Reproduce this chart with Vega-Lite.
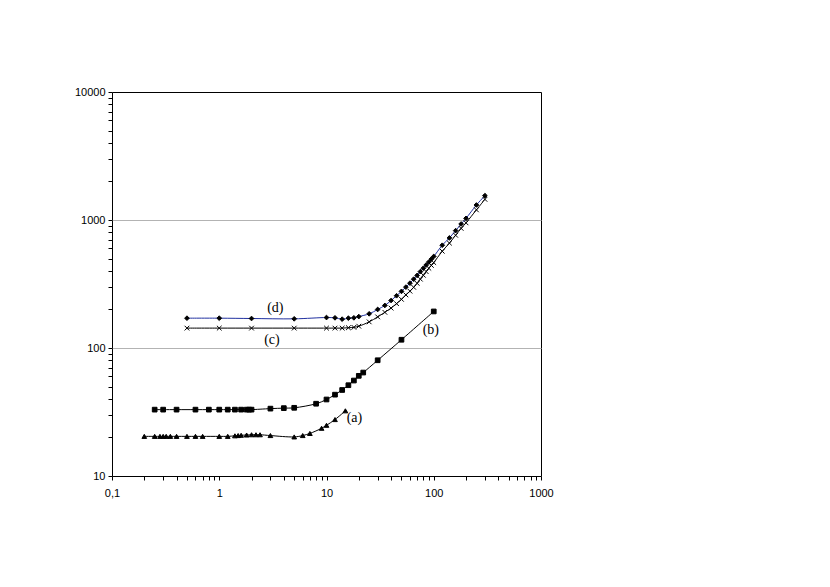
{
  "$schema": "https://vega.github.io/schema/vega-lite/v6.json",
  "width": 429,
  "height": 384,
  "autosize": "none",
  "padding": {"left": 112, "top": 92, "right": 289, "bottom": 111},
  "background": "white",
  "config": {
    "view": {"stroke": "black", "strokeWidth": 1},
    "axis": {"labelFont": "Liberation Sans", "labelFontSize": 11, "labelColor": "black", "tickColor": "black", "domain": false}
  },
  "datasets": {
    "curves": [
      {"s": "a", "x": 0.2, "y": 20.4}, {"s": "a", "x": 0.25, "y": 20.4}, {"s": "a", "x": 0.28, "y": 20.4}, {"s": "a", "x": 0.3, "y": 20.4},
      {"s": "a", "x": 0.32, "y": 20.4}, {"s": "a", "x": 0.35, "y": 20.4}, {"s": "a", "x": 0.4, "y": 20.4}, {"s": "a", "x": 0.5, "y": 20.4},
      {"s": "a", "x": 0.6, "y": 20.4}, {"s": "a", "x": 0.7, "y": 20.4}, {"s": "a", "x": 1, "y": 20.4}, {"s": "a", "x": 1.2, "y": 20.4},
      {"s": "a", "x": 1.4, "y": 20.6}, {"s": "a", "x": 1.5, "y": 20.7}, {"s": "a", "x": 1.6, "y": 20.8}, {"s": "a", "x": 1.8, "y": 20.9},
      {"s": "a", "x": 2, "y": 21}, {"s": "a", "x": 2.2, "y": 21}, {"s": "a", "x": 2.4, "y": 21}, {"s": "a", "x": 3, "y": 20.7},
      {"s": "a", "x": 5, "y": 20.2}, {"s": "a", "x": 6, "y": 20.7}, {"s": "a", "x": 7, "y": 21.5}, {"s": "a", "x": 9, "y": 23.6},
      {"s": "a", "x": 10, "y": 24.9}, {"s": "a", "x": 12, "y": 27.6}, {"s": "a", "x": 15, "y": 32.3},
      {"s": "b", "x": 0.25, "y": 33}, {"s": "b", "x": 0.3, "y": 33}, {"s": "b", "x": 0.4, "y": 33}, {"s": "b", "x": 0.6, "y": 33},
      {"s": "b", "x": 0.8, "y": 33}, {"s": "b", "x": 1, "y": 33}, {"s": "b", "x": 1.2, "y": 33}, {"s": "b", "x": 1.4, "y": 33},
      {"s": "b", "x": 1.6, "y": 33}, {"s": "b", "x": 1.8, "y": 33}, {"s": "b", "x": 1.9, "y": 33}, {"s": "b", "x": 2, "y": 33},
      {"s": "b", "x": 3, "y": 33.6}, {"s": "b", "x": 4, "y": 33.9}, {"s": "b", "x": 5, "y": 34.1}, {"s": "b", "x": 8, "y": 36.7},
      {"s": "b", "x": 10, "y": 39.6}, {"s": "b", "x": 12, "y": 43.2}, {"s": "b", "x": 14, "y": 47}, {"s": "b", "x": 16, "y": 51.2},
      {"s": "b", "x": 18, "y": 55.7}, {"s": "b", "x": 20, "y": 60.6}, {"s": "b", "x": 22, "y": 64.3}, {"s": "b", "x": 30, "y": 80.2},
      {"s": "b", "x": 50, "y": 116}, {"s": "b", "x": 100, "y": 193},
      {"s": "c", "x": 0.5, "y": 143}, {"s": "c", "x": 1, "y": 143}, {"s": "c", "x": 2, "y": 143}, {"s": "c", "x": 5, "y": 143},
      {"s": "c", "x": 10, "y": 143}, {"s": "c", "x": 12, "y": 143}, {"s": "c", "x": 14, "y": 143}, {"s": "c", "x": 16, "y": 144},
      {"s": "c", "x": 18, "y": 145}, {"s": "c", "x": 20, "y": 148}, {"s": "c", "x": 25, "y": 160}, {"s": "c", "x": 30, "y": 175},
      {"s": "c", "x": 35, "y": 190}, {"s": "c", "x": 40, "y": 205}, {"s": "c", "x": 45, "y": 222}, {"s": "c", "x": 50, "y": 240},
      {"s": "c", "x": 55, "y": 260}, {"s": "c", "x": 60, "y": 278}, {"s": "c", "x": 65, "y": 298}, {"s": "c", "x": 70, "y": 320},
      {"s": "c", "x": 75, "y": 345}, {"s": "c", "x": 80, "y": 370}, {"s": "c", "x": 85, "y": 395}, {"s": "c", "x": 90, "y": 420},
      {"s": "c", "x": 95, "y": 442}, {"s": "c", "x": 100, "y": 465}, {"s": "c", "x": 120, "y": 570}, {"s": "c", "x": 140, "y": 660},
      {"s": "c", "x": 160, "y": 760}, {"s": "c", "x": 180, "y": 860}, {"s": "c", "x": 200, "y": 950}, {"s": "c", "x": 250, "y": 1200},
      {"s": "c", "x": 300, "y": 1450},
      {"s": "d", "x": 0.5, "y": 171}, {"s": "d", "x": 1, "y": 171}, {"s": "d", "x": 2, "y": 170}, {"s": "d", "x": 5, "y": 169},
      {"s": "d", "x": 10, "y": 173}, {"s": "d", "x": 12, "y": 172}, {"s": "d", "x": 14, "y": 168}, {"s": "d", "x": 16, "y": 171},
      {"s": "d", "x": 18, "y": 172}, {"s": "d", "x": 20, "y": 176}, {"s": "d", "x": 25, "y": 185}, {"s": "d", "x": 30, "y": 200},
      {"s": "d", "x": 35, "y": 215}, {"s": "d", "x": 40, "y": 235}, {"s": "d", "x": 45, "y": 256}, {"s": "d", "x": 50, "y": 277},
      {"s": "d", "x": 55, "y": 299}, {"s": "d", "x": 60, "y": 321}, {"s": "d", "x": 65, "y": 345}, {"s": "d", "x": 70, "y": 369},
      {"s": "d", "x": 75, "y": 395}, {"s": "d", "x": 80, "y": 420}, {"s": "d", "x": 85, "y": 445}, {"s": "d", "x": 90, "y": 470},
      {"s": "d", "x": 95, "y": 495}, {"s": "d", "x": 100, "y": 519}, {"s": "d", "x": 120, "y": 635}, {"s": "d", "x": 140, "y": 725},
      {"s": "d", "x": 160, "y": 826}, {"s": "d", "x": 180, "y": 931}, {"s": "d", "x": 200, "y": 1030}, {"s": "d", "x": 250, "y": 1310},
      {"s": "d", "x": 300, "y": 1550}
    ],
    "labels": [
      {"t": "(a)", "x": 18.2, "y": 28.2},
      {"t": "(b)", "x": 94, "y": 137},
      {"t": "(c)", "x": 3.1, "y": 116},
      {"t": "(d)", "x": 3.33, "y": 205}
    ]
  },
  "encoding": {
    "x": {
      "field": "x", "type": "quantitative",
      "scale": {"type": "log", "domain": [0.1, 1000], "nice": false},
      "axis": {
        "title": null, "grid": false, "tickSize": 4, "labelPadding": 7, "labelFlush": false, "labelOverlap": false, "format": "d",
        "values": [0.1, 0.2, 0.3, 0.4, 0.5, 0.6, 0.7, 0.8, 0.9, 1, 2, 3, 4, 5, 6, 7, 8, 9, 10, 20, 30, 40, 50, 60, 70, 80, 90, 100, 200, 300, 400, 500, 600, 700, 800, 900, 1000],
        "labelExpr": "datum.value == 0.1 ? '0,1' : ((datum.value == 1 || datum.value == 10 || datum.value == 100 || datum.value == 1000) ? datum.label : '')"
      }
    },
    "y": {
      "field": "y", "type": "quantitative",
      "scale": {"type": "log", "domain": [10, 10000], "nice": false},
      "axis": {
        "title": null, "grid": true, "gridColor": "#b3b3b3",
        "gridOpacity": {"condition": {"test": "datum.value == 100 || datum.value == 1000", "value": 1}, "value": 0},
        "tickSize": 4, "labelPadding": 3, "labelFlush": false, "labelOverlap": false, "format": "d",
        "values": [10, 20, 30, 40, 50, 60, 70, 80, 90, 100, 200, 300, 400, 500, 600, 700, 800, 900, 1000, 2000, 3000, 4000, 5000, 6000, 7000, 8000, 9000, 10000],
        "labelExpr": "(datum.value == 10 || datum.value == 100 || datum.value == 1000 || datum.value == 10000) ? datum.label : ''"
      }
    }
  },
  "layer": [
    {
      "data": {"name": "curves"},
      "mark": {"type": "line", "interpolate": "catmull-rom", "strokeWidth": 1},
      "encoding": {
        "color": {"field": "s", "type": "nominal", "scale": {"domain": ["a", "b", "c", "d"], "range": ["black", "black", "black", "#2030a0"]}, "legend": null}
      }
    },
    {
      "data": {"name": "curves"},
      "mark": {"type": "point", "filled": true, "opacity": 1, "fill": "black", "stroke": "black", "strokeWidth": 1},
      "encoding": {
        "shape": {"field": "s", "type": "nominal", "scale": {"domain": ["a", "b", "c", "d"], "range": ["triangle-up", "square", "M-1,-1L1,1M-1,1L1,-1", "diamond"]}, "legend": null},
        "size": {"field": "s", "type": "nominal", "scale": {"domain": ["a", "b", "c", "d"], "range": [22, 22, 16, 18]}, "legend": null}
      }
    },
    {
      "data": {"name": "labels"},
      "mark": {"type": "text", "font": "Liberation Serif", "fontSize": 14, "color": "black"},
      "encoding": {"text": {"field": "t"}}
    }
  ]
}
